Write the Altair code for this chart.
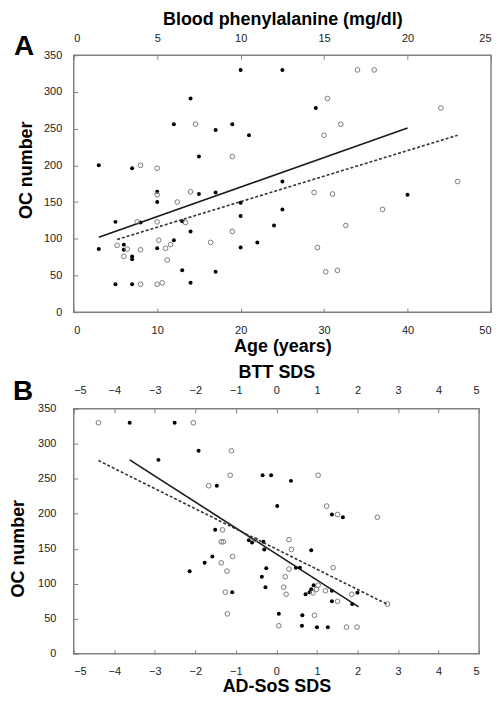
import altair as alt
import pandas as pd

FONT = "Liberation Sans"

# ---------------- Panel A ----------------
age_filled = [20, 25, 14, 12, 17, 19, 21, 15, 3, 7, 10, 10, 15, 17, 25, 20, 20, 25, 5, 8,
              13, 14, 24, 22, 12, 3, 6, 6, 7, 7, 10, 20, 13, 17, 5, 7, 14, 29, 40]
oc_age_filled = [330, 330, 291, 256, 248, 256, 241, 212, 200, 196, 164, 150, 161, 163, 178, 149, 131, 140, 123, 122,
                 124, 110, 118, 95, 98, 86, 92, 85, 76, 72, 87, 88, 57, 55, 38, 38, 40, 278, 160]
phe_open = [7.3, 9.5, 4.0, 5.0, 5.0, 7.0, 6.2, 3.8, 5.0, 6.7, 9.5, 2.6, 3.2, 3.0, 4.0, 5.1, 5.5, 5.8, 5.6, 8.2,
            4.0, 5.0, 5.3, 17, 18, 15.2, 22, 16, 15, 23, 14.4, 15.5, 18.5, 16.3, 14.6, 15.1, 15.8]
oc_phe_open = [256, 212, 200, 196, 160, 164, 150, 123, 123, 122, 110, 91, 86, 76, 85, 98, 87, 92, 71, 95,
               38, 38, 40, 330, 330, 291, 278, 256, 241, 178, 163, 161, 140, 118, 88, 55, 57]
age_fit = [3, 40]
oc_age_fit = [102, 251]
phe_fit = [2.6, 23]
oc_phe_fit = [99, 241]

# ---------------- Panel B ----------------
ad_filled = [-3.62, -2.51, -1.92, -2.91, -0.34, -0.13, -1.47, 0.02, -1.51, -0.68, -0.6, -0.32, -0.3, -1.58,
             -1.77, -2.14, -0.25, -0.36, -0.27, -1.09, 0.06, 0.36, 1.37, 1.64, 0.86, 0.48, 0.58, 0.92, 0.86,
             0.82, 0.72, 1.37, 2.0, 1.37, 1.87, 0.64, 0.63, 1.0, 1.27]
oc_ad_filled = [330, 330, 290, 277, 255, 255, 240, 211, 177, 162, 159, 160, 149, 139,
                130, 118, 122, 110, 95, 88, 57, 247, 199, 195, 148, 123, 123, 98, 92,
                88, 85, 90, 87, 75, 71, 55, 40, 38, 38]
btt_open = [-4.39, -2.05, -1.11, -1.14, -1.67, -1.33, -1.36, -1.31, -0.52, -1.08, -1.36, -1.22, -1.26, -1.21,
            0.06, 1.03, 1.24, 1.51, 2.49, 0.31, 0.37, 1.4, 0.31, 0.22, 0.18, 0.24, 1.03, 0.99, 0.9, 1.21,
            1.51, 1.86, 2.74, 0.94, 1.73, 1.99]
oc_btt_open = [330, 330, 290, 255, 240, 177, 160, 160, 163, 139, 130, 118, 88, 57,
               40, 255, 211, 199, 195, 163, 149, 123, 121, 110, 95, 85, 98, 92, 87, 90,
               75, 85, 71, 55, 38, 38]
ad_fit = [-3.62, 2.03]
oc_ad_fit = [277, 67]
btt_fit = [-4.39, 2.76]
oc_btt_fit = [276, 70]

oc_ticks = list(range(0, 351, 50))


def panel(xf, yf, xo, yo, xfit, yfit, xofit, yofit,
          bottom_title, top_title, dom_b, dom_t, vals_b, vals_t,
          letter, letter_x, letter_y, w, h, ylabpad, ytitlepad, title_y,
          top_labpad, top_titlepad, bot_labpad, bot_titlepad):
    yscale = alt.Scale(domain=[0, 350], nice=False, zero=True)
    yaxis = alt.Axis(values=oc_ticks, title="OC number", labelPadding=ylabpad,
                     titlePadding=ytitlepad, titleY=title_y)
    yenc = alt.Y("oc:Q", scale=yscale, axis=yaxis)

    xb = alt.X("x:Q", scale=alt.Scale(domain=dom_b, nice=False, zero=False),
               axis=alt.Axis(values=vals_b, title=bottom_title, orient="bottom",
                             labelPadding=bot_labpad, titlePadding=bot_titlepad))
    xt = alt.X("x:Q", scale=alt.Scale(domain=dom_t, nice=False, zero=False),
               axis=alt.Axis(values=vals_t, title=top_title, orient="top",
                             labelPadding=top_labpad, titlePadding=top_titlepad))

    df_f = pd.DataFrame({"x": xf, "oc": yf})
    df_o = pd.DataFrame({"x": xo, "oc": yo})
    df_fit = pd.DataFrame({"x": xfit, "oc": yfit})
    df_ofit = pd.DataFrame({"x": xofit, "oc": yofit})

    filled = alt.Chart(df_f).mark_circle(color="black", size=16, opacity=1).encode(x=xb, y=yenc)
    solid = alt.Chart(df_fit).mark_line(color="#1a1a1a", strokeWidth=1.6).encode(x=xb, y=yenc)
    letter_mark = alt.Chart(pd.DataFrame({"t": [letter]})).mark_text(
        font=FONT, fontSize=28, fontWeight="bold", align="left", baseline="alphabetic",
        color="black").encode(text="t:N", x=alt.value(letter_x), y=alt.value(letter_y))
    layer1 = alt.layer(filled, solid, letter_mark)

    opened = alt.Chart(df_o).mark_point(shape="circle", filled=False, color="#7a7a7a",
                                        size=22, strokeWidth=1, opacity=1).encode(x=xt, y=yenc)
    dashed = alt.Chart(df_ofit).mark_line(color="#333333", strokeWidth=1.6,
                                          strokeDash=[3, 2]).encode(x=xt, y=yenc)
    layer2 = alt.layer(opened, dashed)

    return alt.layer(layer1, layer2).resolve_scale(x="independent").properties(width=w, height=h)


pA = panel(age_filled, oc_age_filled, phe_open, oc_phe_open, age_fit, oc_age_fit, phe_fit, oc_phe_fit,
           "Age (years)", "Blood phenylalanine (mg/dl)", [0, 50], [0, 25],
           list(range(0, 51, 10)), list(range(0, 26, 5)),
           "A", -60, 0, 419, 258, 12, 8, 115,
           12, 4, 12, 2)

pB = panel(ad_filled, oc_ad_filled, btt_open, oc_btt_open, ad_fit, oc_ad_fit, btt_fit, oc_btt_fit,
           "AD-SoS SDS", "BTT SDS", [-5, 5], [-5, 5],
           list(range(-5, 6)), list(range(-5, 6)),
           "B", -61, -9, 407, 246, 18, 10, 140,
           13, 3, 12, 1)

chart = alt.concat(pA, pB, columns=1, spacing=7, align="none").properties(
    padding=0
).configure_axis(
    labelFont=FONT, labelFontSize=11, labelColor="#222222",
    titleFont=FONT, titleFontSize=18, titleFontWeight="bold", titleColor="black",
    tickColor="#808080", tickSize=4, tickWidth=1, domain=False, grid=False, offset=-4
).configure_view(
    stroke="#808080", strokeWidth=1.5
)

chart.save("out.html", embed_options={"renderer": "svg", "actions": False})
